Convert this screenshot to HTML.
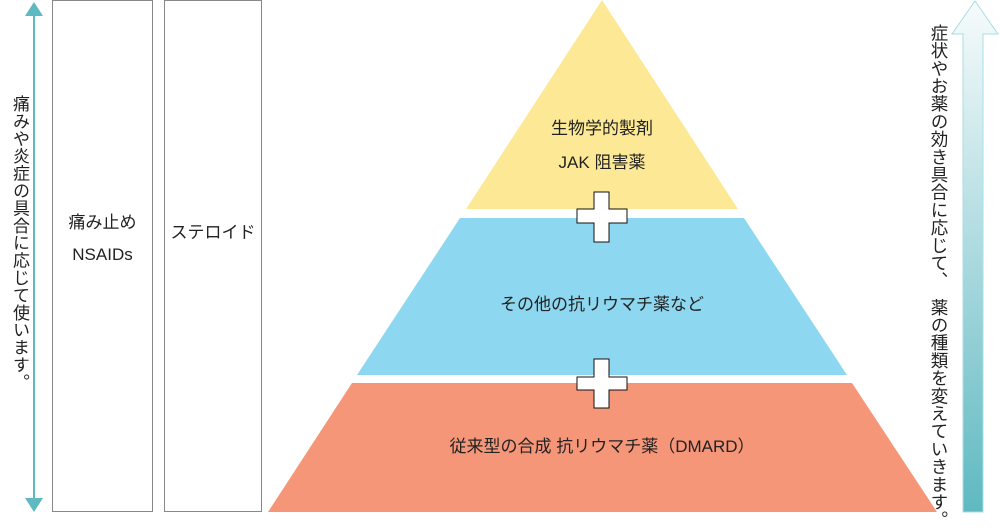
<!DOCTYPE html>
<html><head><meta charset="utf-8"><style>
body{margin:0;width:1000px;height:517px;background:#fff;overflow:hidden;position:relative;font-family:"Liberation Sans","Noto Sans CJK JP",sans-serif;color:#222}
.v{position:absolute;writing-mode:vertical-rl;font-size:17px;line-height:20px;white-space:nowrap}
.box{position:absolute;border:1px solid #888;box-sizing:border-box}
.t{position:absolute;font-size:17px;text-align:center}
</style></head><body>
<svg width="1000" height="517" style="position:absolute;left:0;top:0">
<defs><linearGradient id="g" x1="0" y1="0" x2="0" y2="1"><stop offset="0" stop-color="#f7fbfc"/><stop offset="1" stop-color="#5fb9c1"/></linearGradient></defs>
<line x1="34" y1="14" x2="34" y2="500" stroke="#5fb9c1" stroke-width="2"/>
<polygon points="34,2 25,16 43,16" fill="#5fb9c1"/>
<polygon points="34,512 25,498 43,498" fill="#5fb9c1"/>
<polygon points="602,0 466,209 738,209" fill="#fde995"/>
<polygon points="460,218 744,218 847,375 357,375" fill="#8dd8f0"/>
<polygon points="352,383 852,383 937,512 268,512" fill="#f59679"/>
<polygon points="594,192 609,192 609,209 627,209 627,223 609,223 609,242 594,242 594,223 577,223 577,209 594,209" fill="#fff" stroke="#111" stroke-width="1"/>
<polygon points="594,359 609,359 609,377 627,377 627,390 609,390 609,408 594,408 594,390 577,390 577,377 594,377" fill="#fff" stroke="#111" stroke-width="1"/>
<polygon points="975,1 998,34 983,34 983,512 963,512 963,34 952,34" fill="url(#g)" stroke="#a8dde6" stroke-width="1"/>
</svg>
<div class="box" style="left:52px;top:0;width:101px;height:512px"></div>
<div class="box" style="left:164px;top:0;width:98px;height:512px"></div>
<div class="v" style="left:9px;top:95px;letter-spacing:0.4px">痛みや炎症の具合に応じて使います。</div>
<div class="v" style="left:929px;top:24px;font-size:17.5px;letter-spacing:0.2px">症状やお薬の効き具合に応じて、　薬の種類を変えていきます。</div>
<div class="t" style="left:52px;width:101px;top:207px;line-height:32px">痛み止め<br>NSAIDs</div>
<div class="t" style="left:164px;width:98px;top:218px">ステロイド</div>
<div class="t" style="left:502px;width:200px;top:112px;line-height:34px">生物学的製剤<br>JAK 阻害薬</div>
<div class="t" style="left:452px;width:300px;top:290px">その他の抗リウマチ薬など</div>
<div class="t" style="left:402px;width:400px;top:432px">従来型の合成 抗リウマチ薬（DMARD）</div>
</body></html>
